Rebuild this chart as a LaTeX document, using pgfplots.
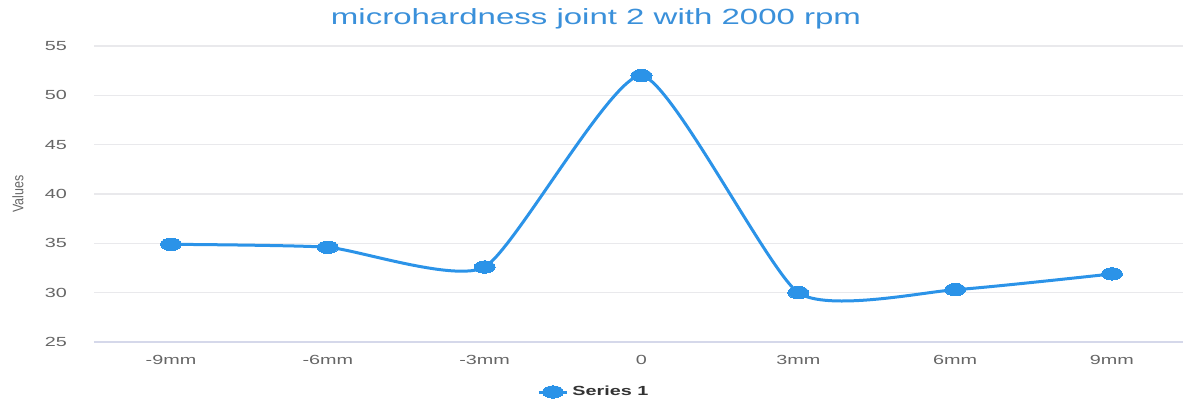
\documentclass[border=0pt]{standalone}
\usepackage{pgfplots}
\pgfplotsset{compat=1.18}
\usepackage{fontspec}
\setmainfont{Liberation Sans}
\newfontfamily\widefont[FakeStretch=1.5]{Liberation Sans}
\newfontfamily\condfont[FakeStretch=0.82]{Liberation Sans}
\definecolor{seriesblue}{HTML}{2B93E8}
\definecolor{titleblue}{HTML}{3A90DA}
\definecolor{ticklab}{HTML}{666666}
\definecolor{gridc}{HTML}{E9E9EC}
\definecolor{baseline}{HTML}{D5D8EA}
\begin{document}
\begin{tikzpicture}
\begin{axis}[
  at={(0,0)}, anchor=south west,
  scale only axis,
  width=544.5pt, height=148pt,
  xmin=-0.491, xmax=6.453,
  ymin=25, ymax=55,
  ytick={25,30,35,40,45,50,55},
  xtick={0,1,2,3,4,5,6},
  xticklabels={-9mm,-6mm,-3mm,0,3mm,6mm,9mm},
  major tick length=0pt,
  axis y line*=left,
  axis x line*=bottom,
  y axis line style={draw=none},
  x axis line style={color=baseline, line width=0.6pt, -},
  ymajorgrids=true,
  grid style={color=gridc, line width=0.6pt},
  /pgf/number format/assume math mode=true,
  yticklabel style={font=\widefont\fontsize{6.6}{8}\selectfont, color=ticklab, anchor=east, xshift=-10pt},
  xticklabel style={font=\widefont\fontsize{6.6}{8}\selectfont, color=ticklab, anchor=north, yshift=-3pt},
  ylabel={Values},
  every axis y label/.style={at={(axis description cs:-0.0698,0.5)}, rotate=90, anchor=center, font=\condfont\fontsize{7.6}{9}\selectfont, color=ticklab},
  legend style={at={(axis description cs:0.46,-0.169)}, anchor=center, draw=none, fill=none, font=\widefont\bfseries\fontsize{6.6}{8}\selectfont, text=black!80},
  legend image code/.code={\draw[#1, mark repeat=2, mark phase=2] plot coordinates {(0pt,0pt) (7pt,0pt) (14pt,0pt)};},
  clip=false,
]
\addplot[color=seriesblue, line width=1.5pt, smooth, tension=0.33,
  mark=*, mark size=3.1pt, mark options={xscale=1.7, fill=seriesblue, draw=seriesblue, line width=0pt}]
  coordinates {(0,34.9) (1,34.6) (2,32.6) (3,52.0) (4,30.0) (5,30.3) (6,31.9)};
\addlegendentry{Series 1}
\node[anchor=base, font=\widefont\fontsize{11}{13}\selectfont, text=titleblue] at (axis description cs:0.461,1.074) {microhardness joint 2 with 2000 rpm};
\end{axis}
\pgfresetboundingbox
\path[use as bounding box] (-47pt,-31.5pt) rectangle (544.5pt,171pt);
\end{tikzpicture}
\end{document}
